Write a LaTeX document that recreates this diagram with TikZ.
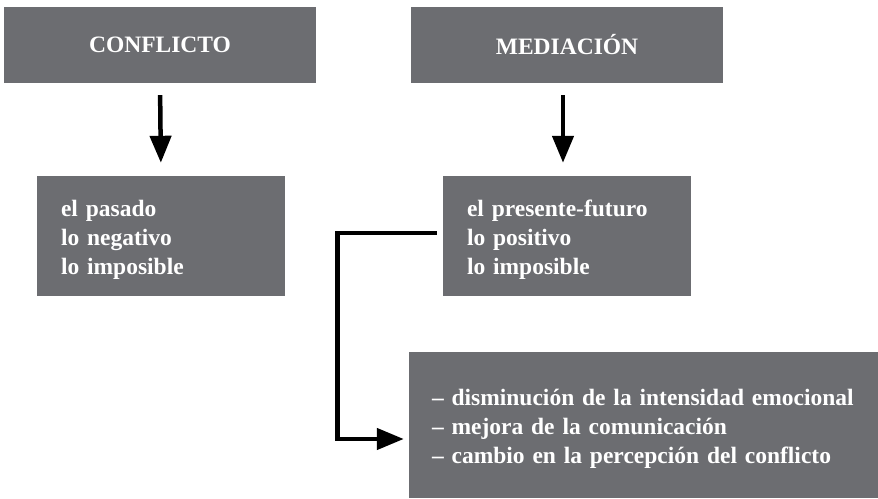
\documentclass[tikz,border=0pt]{standalone}
\usepackage{fontspec}
\setmainfont{Liberation Serif}
\usepackage{xcolor}
\usetikzlibrary{arrows.meta}
\definecolor{boxgray}{RGB}{108,109,113}
\newcommand{\boxgap}{\rule{0pt}{24pt}}
\tikzset{x=1pt,y=1pt,
    box/.style={fill=boxgray,text=white,font=\bfseries\fontsize{23.5}{29}\selectfont,inner sep=0pt},
    title/.style={box,minimum width=312pt,minimum height=76pt},
    list/.style={box,align=left,inner xsep=24pt,text width=200pt,minimum height=120pt},
    flow/.style={line width=4.5pt,-{Triangle[length=27pt,width=21pt]}}}

\begin{document}
\begin{tikzpicture}
\useasboundingbox (0,0) rectangle (878,498);
\node[title] (conflicto) at (160,453) {CONFLICTO};
\node[title] (mediacion) at (567,453) {MEDIACIÓN};
\node[list] (pasado) at (161,262) {\boxgap el pasado\\lo negativo\\lo imposible};
\node[list] (presente) at (567,262) {\boxgap el presente-futuro\\lo positivo\\lo imposible};
\node[list,inner xsep=23pt,text width=423pt,minimum height=146pt] (efectos) at (643.5,73)
    {\boxgap\mbox{– disminución de la intensidad emocional}\\\mbox{– mejora de la comunicación}\\\mbox{– cambio en la percepción del conflicto}};
\coordinate (bend) at (337.5,59);
% arrows
\draw[flow,shorten <=12pt,shorten >=13pt] (conflicto.south) -- (pasado.north);
\draw[flow,shorten <=12pt,shorten >=13pt] ([xshift=-4pt]mediacion.south) -- ([xshift=-4pt]presente.north);
\draw[flow] ([xshift=-6pt,yshift=3pt]presente.west) -| (bend) -- ([xshift=-5pt]efectos.west |- bend);
\end{tikzpicture}
\end{document}
